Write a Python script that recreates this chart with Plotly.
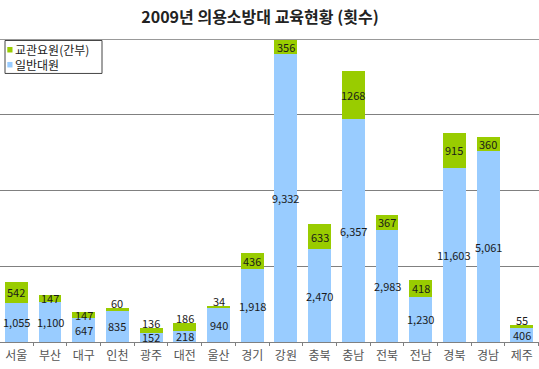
import plotly.graph_objects as go

# ---- data ----
categories = ["서울", "부산", "대구", "인천", "광주", "대전", "울산", "경기",
              "강원", "충북", "충남", "전북", "전남", "경북", "경남", "제주"]
# printed values
officer_values = [542, 147, 147, 60, 136, 186, 34, 436, 356, 633, 1268, 367, 418, 915, 360, 55]
member_values = [1055, 1100, 647, 835, 152, 218, 940, 1918, 9332, 2470, 6357, 2983, 1230, 11603, 5061, 406]
# drawn bar heights (the picture's bars are not proportional to the printed values)
member_heights = [51.8, 53.1, 31.2, 41.3, 12.3, 14.9, 46.1, 95.8, 379.6, 122.2, 293.9, 148.5, 59.7, 230.3, 252.1, 18.8]
officer_heights = [27.7, 8.8, 8.7, 3.2, 5.8, 10.5, 1.7, 21.1, 18.5, 33.0, 63.3, 18.8, 22.0, 45.6, 18.5, 3.6]
# categories whose officer label sits just above the bar
labels_above = {"인천", "광주", "대전", "울산", "제주"}

title_text = "2009년 의용소방대 교육현황 (횟수)"
name_officer = "교관요원(간부)"
name_member = "일반대원"

GREEN = "#99CC00"
BLUE = "#99CCFF"
FONT = "Noto Sans CJK KR"

W, H = 539, 369
PLOT_TOP, PLOT_BOTTOM = 38.5, 342.0

fig = go.Figure()
fig.add_bar(x=categories, y=member_heights, name=name_member, marker_color=BLUE,
            marker_line_width=0, width=0.68, showlegend=False)
fig.add_bar(x=categories, y=officer_heights, name=name_officer, marker_color=GREEN,
            marker_line_width=0, width=0.68, showlegend=False)

annotations = []
lab_font = dict(family=FONT, size=11, color="#1a1a1a")
for c, mv, ov, mh, oh in zip(categories, member_values, officer_values, member_heights, officer_heights):
    annotations.append(dict(x=c, y=mh / 2, xref="x", yref="y", text=f"{mv:,}",
                            showarrow=False, font=lab_font, yanchor="middle", borderpad=0))
    if c in labels_above:
        annotations.append(dict(x=c, y=mh + oh, xref="x", yref="y", text=str(ov),
                                showarrow=False, font=lab_font, yanchor="middle", yshift=5,
                                borderpad=0))
    else:
        annotations.append(dict(x=c, y=mh + oh / 2, xref="x", yref="y", text=str(ov),
                                showarrow=False, font=lab_font, yanchor="middle", borderpad=0))


def px_x(px):
    return px / W


def px_y(py):
    return (PLOT_BOTTOM - py) / (PLOT_BOTTOM - PLOT_TOP)


# custom legend
shapes = [
    dict(type="line", xref="paper", yref="y", x0=0, x1=1, y0=400, y1=400,
         line=dict(color="#999999", width=2), layer="above"),
    dict(type="rect", xref="paper", yref="paper", x0=px_x(5), x1=px_x(102),
         y0=px_y(73), y1=px_y(40), line=dict(color="#444444", width=1), fillcolor="white"),
    dict(type="rect", xref="paper", yref="paper", x0=px_x(7.3), x1=px_x(12.5),
         y0=px_y(52), y1=px_y(46.5), line=dict(width=0), fillcolor=GREEN),
    dict(type="rect", xref="paper", yref="paper", x0=px_x(7.3), x1=px_x(12.5),
         y0=px_y(67), y1=px_y(61.5), line=dict(width=0), fillcolor=BLUE),
]
leg_font = dict(family=FONT, size=12, color="#222222")
annotations.append(dict(x=px_x(14), y=px_y(49), xref="paper", yref="paper", text=name_officer,
                        showarrow=False, xanchor="left", yanchor="middle", font=leg_font,
                        borderpad=0))
annotations.append(dict(x=px_x(14), y=px_y(64.3), xref="paper", yref="paper", text=name_member,
                        showarrow=False, xanchor="left", yanchor="middle", font=leg_font,
                        borderpad=0))

fig.update_layout(
    width=W, height=H, autosize=False,
    margin=dict(l=0, r=0, t=PLOT_TOP, b=H - PLOT_BOTTOM, pad=0),
    barmode="stack", bargap=0.32,
    paper_bgcolor="white", plot_bgcolor="white",
    title=dict(text=title_text, x=260 / W, xanchor="center", y=1 - 17 / H, yanchor="middle",
               yref="container", font=dict(family=FONT, size=16, color="#222222", weight="bold")),
    shapes=shapes, annotations=annotations,
    showlegend=False,
)
fig.update_xaxes(type="category", range=[-0.484, 15.51], showline=True, linecolor="#808080",
                 linewidth=1, ticks="outside", tickson="boundaries", ticklen=3, tickcolor="#808080",
                 tickfont=dict(family=FONT, size=12, color="#555555"), showgrid=False,
                 ticklabelstandoff=3)
fig.update_yaxes(range=[0, 400], dtick=100, showgrid=True, gridcolor="#808080", gridwidth=1,
                 showticklabels=False, zeroline=False, ticks="")

fig.write_html("out.html", config={"displayModeBar": False},
               post_script="document.body.style.margin='0px';document.body.style.overflow='hidden';")
